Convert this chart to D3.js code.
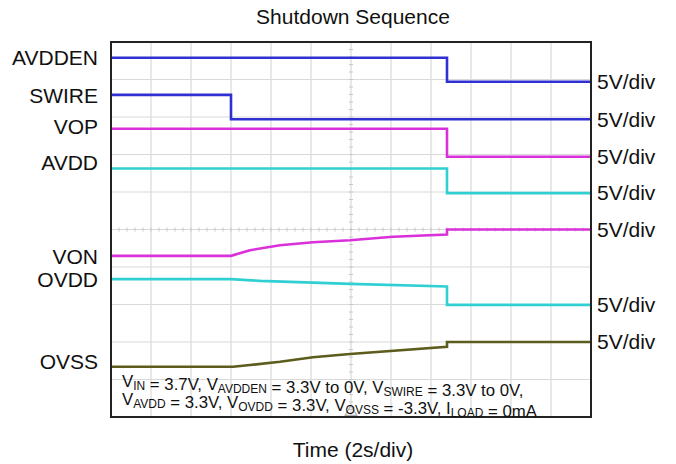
<!DOCTYPE html>
<html>
<head>
<meta charset="utf-8">
<script src="https://cdn.jsdelivr.net/npm/d3@7"></script>
<style>
  body { margin: 0; background: #fff; }
  svg { font-family: "Liberation Sans", Arial, sans-serif; }
</style>
</head>
<body>
<svg id="chart" width="676" height="464"></svg>
<script>
// scope settings: 12 x 10 divisions, 2s/div, 5V/div
var timeDomain = [0, 24];
var divDomain = [-5, 5];
var voltsPerDiv = 5;

// trace names, colours, zero offsets (in divisions) and label spots
var traceNames = ["AVDDEN", "SWIRE", "VOP", "AVDD", "VON", "OVDD", "OVSS"];
var traceColors = ["#2f2fd2", "#2f2fd2", "#d930d9", "#30cfd3", "#d930d9", "#30cfd3", "#5c5c1c"];
var traceOffsets = [3.94, 2.94, 1.94, 0.97, 0, -2.01, -3.0];
var leftLabelY = [58, 96, 127, 163, 257, 280, 362];

// samples [time s, volts]
var avddenData = [[0, 3.2], [16.8, 3.2], [16.8, 0], [24, 0]];
var swireData = [[0, 3.25], [6, 3.25], [6, 0], [24, 0]];
var vopData = [[0, 3.73], [16.8, 3.73], [16.8, 0], [24, 0]];
var avddData = [[0, 3.29], [16.8, 3.29], [16.8, 0], [24, 0]];
var vonData = [[0, -3.51], [6, -3.51], [6.95, -2.76], [8.45, -2.09], [10.1, -1.69],
  [11.95, -1.43], [14.1, -0.97], [16.8, -0.67], [16.8, 0], [24, 0]];
var ovddData = [[0, 3.43], [6, 3.43], [7.45, 3.2], [10.1, 2.97], [11.95, 2.8],
  [16.8, 2.44], [16.8, 0], [24, 0]];
var ovssData = [[0, -3.29], [6.1, -3.29], [6.95, -3.07], [8.45, -2.63], [10.1, -2.04],
  [11.95, -1.6], [16.8, -0.63], [16.8, 0], [24, 0]];
var traceData = [avddenData, swireData, vopData, avddData, vonData, ovddData, ovssData];

var rightLabel = "5V/div";
var titleText = "Shutdown Sequence";
var xLabelText = "Time (2s/div)";
// conditions note, [main, subscript] pieces
var noteLine1 = [["V", "IN"], [" = 3.7V, V", "AVDDEN"], [" = 3.3V to 0V, V", "SWIRE"], [" = 3.3V to 0V,", ""]];
var noteLine2 = [["V", "AVDD"], [" = 3.3V, V", "OVDD"], [" = 3.3V, V", "OVSS"], [" = -3.3V, I", "LOAD"], [" = 0mA", ""]];

var svg = d3.select("#chart");
var plot = { left: 111, right: 591, top: 42, bottom: 417 };

var x = d3.scaleLinear().domain(timeDomain).range([plot.left, plot.right]);
var y = d3.scaleLinear().domain(divDomain).range([plot.bottom, plot.top]);

//Grid
var grid = svg.append("g");
grid.selectAll("line.v")
  .data(d3.range(timeDomain[0] + 2, timeDomain[1], 2))
  .enter().append("line")
  .attr("x1", d => x(d)).attr("x2", d => x(d))
  .attr("y1", plot.top).attr("y2", plot.bottom)
  .style("stroke", "#d9d9d9").style("stroke-width", 1.2);
grid.selectAll("line.h")
  .data(d3.range(divDomain[0] + 1, divDomain[1], 1))
  .enter().append("line")
  .attr("x1", plot.left).attr("x2", plot.right)
  .attr("y1", d => y(d)).attr("y2", d => y(d))
  .style("stroke", "#d9d9d9").style("stroke-width", 1.2);

//Minor ticks on the centre lines
var xMid = x((timeDomain[0] + timeDomain[1]) / 2);
grid.selectAll("line.ty")
  .data(d3.range(divDomain[0], divDomain[1], 0.2))
  .enter().append("line")
  .attr("x1", xMid - 2).attr("x2", xMid + 2)
  .attr("y1", d => y(d)).attr("y2", d => y(d))
  .style("stroke", "#c8c8c8");
grid.selectAll("line.tx")
  .data(d3.range(timeDomain[0], timeDomain[1], 0.4))
  .enter().append("line")
  .attr("x1", d => x(d)).attr("x2", d => x(d))
  .attr("y1", y(0) - 2).attr("y2", y(0) + 2)
  .style("stroke", "#c8c8c8");

//Traces
var line = d3.line()
  .x(d => x(d[0]))
  .y((d, i, arr) => y(d[1] / voltsPerDiv + arr.offset));

traceData.forEach(function(data, i) {
  var pts = data.slice();
  pts.offset = traceOffsets[i];
  svg.append("path")
    .attr("d", line(pts))
    .style("fill", "none")
    .style("stroke", traceColors[i])
    .style("stroke-width", 2.6)
    .style("stroke-linejoin", "miter");
});

//Trigger marker
svg.append("path")
  .attr("d", d3.symbol().type(d3.symbolTriangle).size(60)())
  .attr("transform", "translate(" + xMid + "," + (plot.bottom - 5) + ")")
  .style("fill", "none")
  .style("stroke", "#b0b0b0")
  .style("stroke-width", 1.2);

//Frame
svg.append("rect")
  .attr("x", plot.left).attr("y", plot.top)
  .attr("width", plot.right - plot.left)
  .attr("height", plot.bottom - plot.top)
  .style("fill", "none")
  .style("stroke", "#222")
  .style("stroke-width", 2);

//Left labels
svg.selectAll("text.left")
  .data(traceNames)
  .enter().append("text")
  .attr("x", 98)
  .attr("y", (d, i) => leftLabelY[i])
  .attr("dy", "0.35em")
  .attr("text-anchor", "end")
  .style("font-size", "21px")
  .style("fill", "#111")
  .text(d => d);

//Right labels at each trace's final level
svg.selectAll("text.right")
  .data(traceData)
  .enter().append("text")
  .attr("x", 597)
  .attr("y", (d, i) => y(d[d.length - 1][1] / voltsPerDiv + traceOffsets[i]))
  .attr("dy", "0.35em")
  .style("font-size", "21px")
  .style("fill", "#111")
  .text(rightLabel);

//Title and axis label
svg.append("text")
  .attr("x", 353).attr("y", 24)
  .attr("text-anchor", "middle")
  .style("font-size", "21px")
  .style("fill", "#111")
  .text(titleText);
svg.append("text")
  .attr("x", 353).attr("y", 457)
  .attr("text-anchor", "middle")
  .style("font-size", "21px")
  .style("fill", "#111")
  .text(xLabelText);

//Conditions note
function writeNote(parts, yPos) {
  var t = svg.append("text")
    .attr("x", 122).attr("y", yPos)
    .style("font-size", "16.8px")
    .style("fill", "#111");
  parts.forEach(function(p) {
    t.append("tspan").text(p[0]);
    if (p[1]) {
      t.append("tspan")
        .attr("dy", 3)
        .style("font-size", "12px")
        .text(p[1]);
      t.append("tspan").attr("dy", -3).text("");
    }
  });
}
writeNote(noteLine1, 387);
writeNote(noteLine2, 405);
</script>
</body>
</html>
